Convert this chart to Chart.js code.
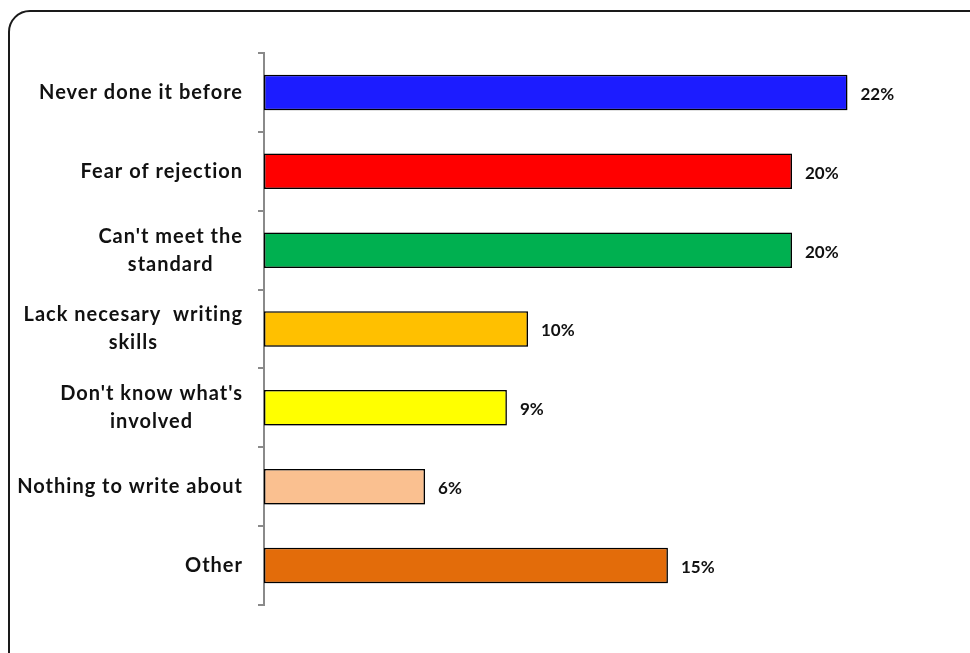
<!DOCTYPE html>
<html lang="en">
<head>
  <meta charset="UTF-8">
  <title>Reasons for not writing</title>
  <script src="https://cdn.jsdelivr.net/npm/chart.js"></script>
  <style>
    html, body { margin: 0; padding: 0; background: #fff; }
    .wrap { position: relative; width: 970px; height: 653px; overflow: hidden; }
    .frame {
      position: absolute; left: 8px; top: 10px; width: 1000px; height: 700px;
      border: 2px solid #1a1a1a; border-radius: 22px; box-sizing: border-box;
    }
    canvas { position: absolute; left: 0; top: 0; }
  </style>
</head>
<body>
  <div class="wrap">
    <div class="frame"></div>
    <canvas id="reasonChart" width="970" height="653"></canvas>
  </div>

  <script>
    // categories and values (percent)
    const categories = [
      ['Never done it before'],
      ['Fear of rejection'],
      ["Can't meet the", 'standard'],
      ['Lack necesary  writing', 'skills'],
      ["Don't know what's", 'involved'],
      ['Nothing to write about'],
      ['Other']
    ];
    const shares = [22.1, 20, 20, 10, 9.2, 6.1, 15.3];
    const barColors = ['#1c1cff', '#ff0000', '#00b050', '#ffc000', '#ffff00', '#fac090', '#e36c0a'];

    const labelFont = 'bold 20px Lato, "Open Sans", sans-serif';
    const valueFont = 'bold 17px Lato, "Open Sans", sans-serif';

    // bar shadow, like the office chart
    const shadowPlugin = {
      id: 'barShadow',
      beforeDatasetsDraw(chart) {
        const c = chart.ctx;
        c.save();
        c.shadowColor = 'rgba(0,0,0,0.35)';
        c.shadowBlur = 4;
        c.shadowOffsetX = 2;
        c.shadowOffsetY = 2;
      },
      afterDatasetsDraw(chart) {
        chart.ctx.restore();
      }
    };

    // category labels: block right aligned, lines centred in the block
    const catLabels = {
      id: 'catLabels',
      afterDraw(chart) {
        const c = chart.ctx;
        const yScale = chart.scales.y;
        const right = chart.chartArea.left - 21;
        c.save();
        c.font = labelFont;
        c.letterSpacing = '1px';
        c.fillStyle = '#111';
        c.textAlign = 'center';
        c.textBaseline = 'middle';
        const lineH = 28;
        categories.forEach((lines, i) => {
          const yc = yScale.getPixelForTick(i);
          const w = Math.max(...lines.map(l => c.measureText(l).width));
          const xc = right - w / 2;
          const y0 = yc - (lines.length - 1) * lineH / 2;
          lines.forEach((l, j) => c.fillText(l, xc, y0 + j * lineH));
        });
        c.restore();
      }
    };

    // value labels at the end of each bar
    const valueLabels = {
      id: 'valueLabels',
      afterDatasetsDraw(chart) {
        const c = chart.ctx;
        const meta = chart.getDatasetMeta(0);
        c.save();
        c.font = valueFont;
        c.fillStyle = '#111';
        c.textAlign = 'left';
        c.textBaseline = 'middle';
        meta.data.forEach((bar, i) => {
          c.fillText(Math.round(shares[i]) + '%', bar.x + 13, bar.y + 2);
        });
        c.restore();
      }
    };

    const ctx = document.getElementById('reasonChart').getContext('2d');
    new Chart(ctx, {
      type: 'bar',
      data: {
        labels: categories,
        datasets: [{
          data: shares,
          backgroundColor: barColors,
          borderColor: '#000',
          borderWidth: 1.5,
          borderSkipped: false,
          categoryPercentage: 1,
          barPercentage: 0.45
        }]
      },
      options: {
        indexAxis: 'y',
        responsive: false,
        animation: false,
        layout: { padding: { top: 53, bottom: 48, right: 46, left: 0 } },
        plugins: { legend: { display: false }, tooltip: { enabled: false } },
        scales: {
          x: { display: false, min: 0, max: 25 },
          y: {
            offset: true,
            afterFit(scale) { scale.width = 264; },
            ticks: { display: false },
            grid: {
              offset: true,
              drawOnChartArea: false,
              drawTicks: true,
              tickLength: 6,
              color: '#8a8a8a',
              lineWidth: 2
            },
            border: { display: true, color: '#8a8a8a', width: 2 }
          }
        }
      },
      plugins: [shadowPlugin, valueLabels, catLabels]
    });
  </script>
</body>
</html>
